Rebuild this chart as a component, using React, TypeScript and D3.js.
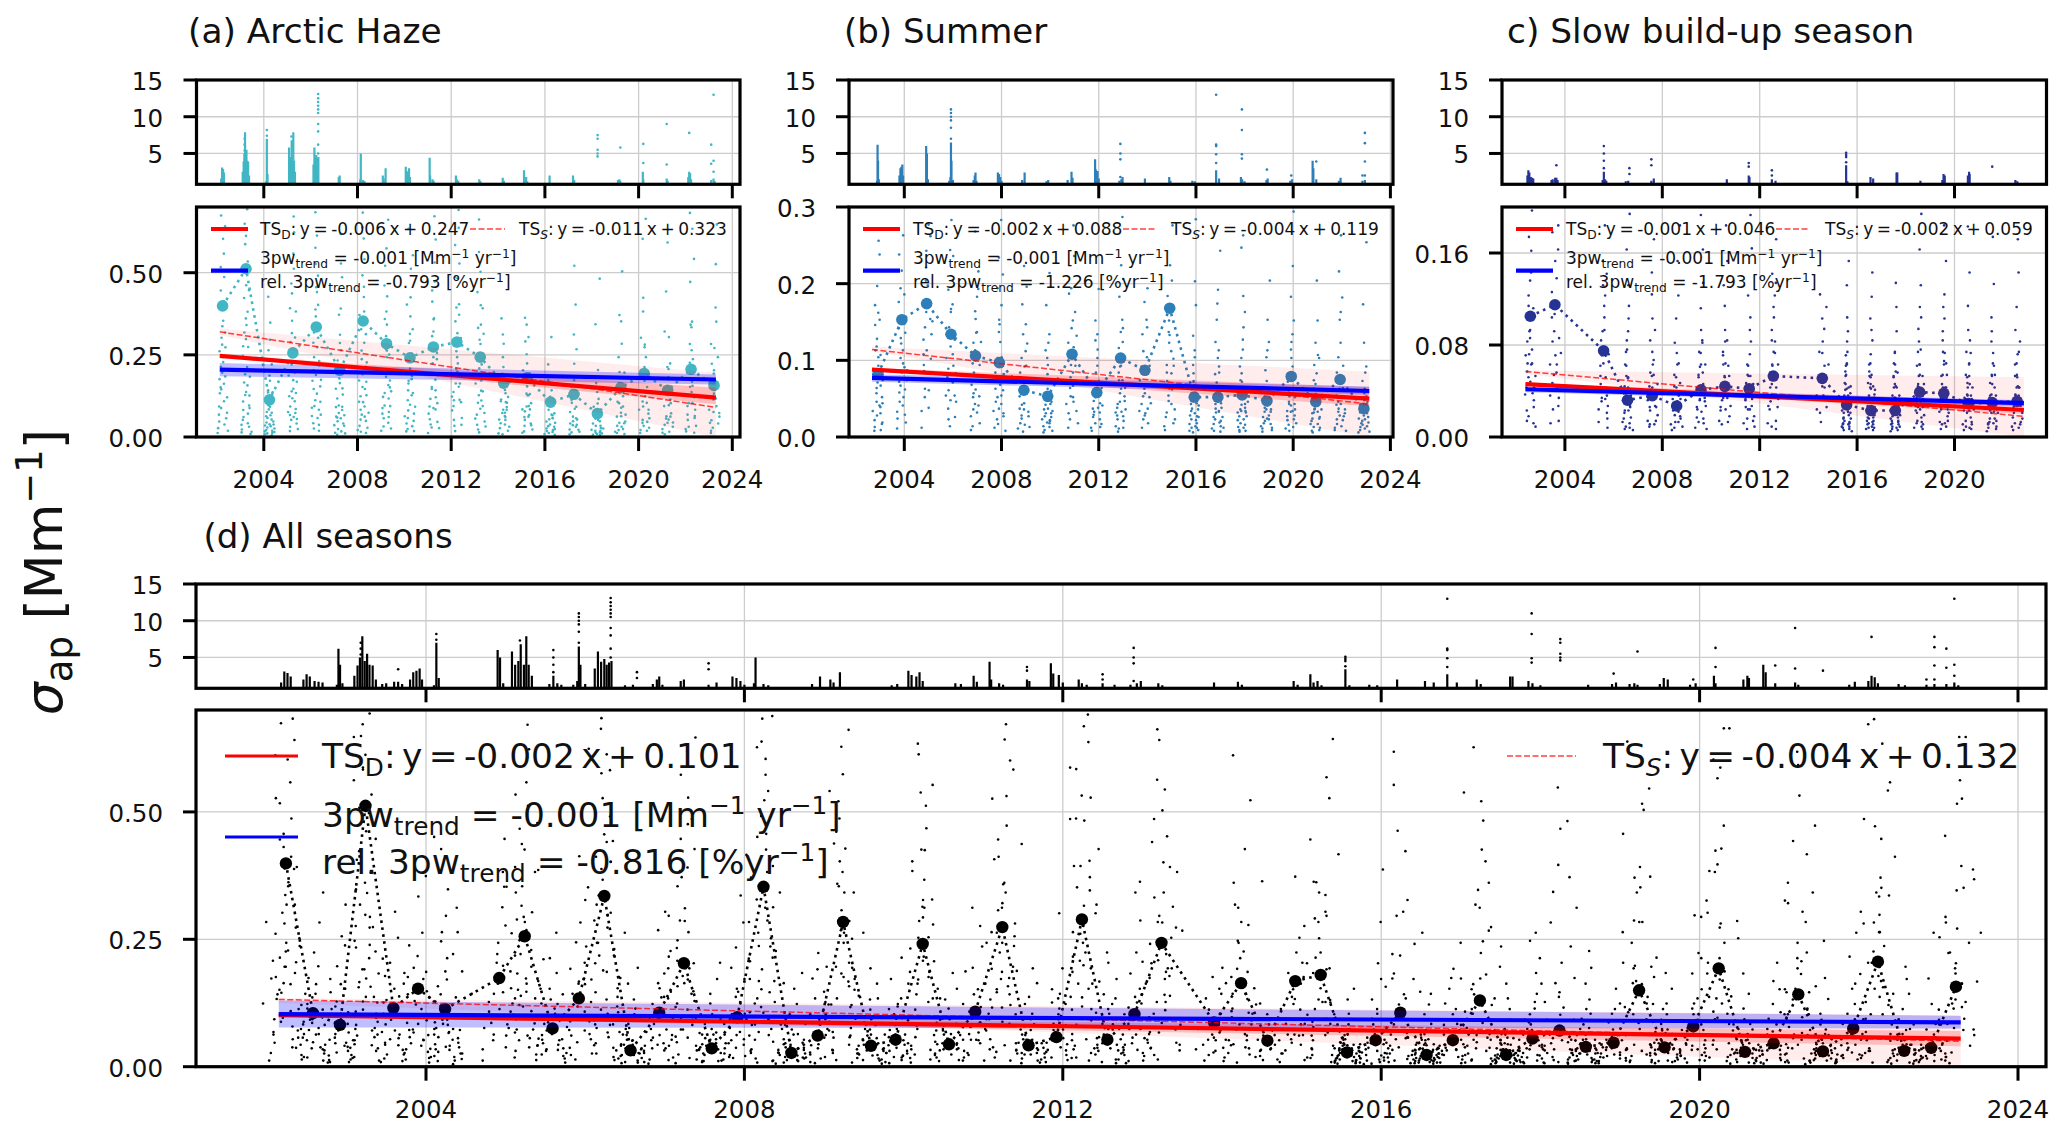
import React from "react";
import * as d3 from "d3";

const FONT = "'DejaVu Sans', sans-serif";

// ---------- seasonal mean values (date, value) ----------
const hazeMeanDates = [2002.24,2003.24,2004.24,2005.24,2006.24,2007.24,2008.24,2009.24,2010.24,2011.24,2012.24,2013.24,2014.24,2015.24,2016.24,2017.24,2018.24,2019.24,2020.24,2021.24,2022.24,2023.22];
const hazeMeans = [.399,.512,.113,.256,.335,.203,.353,.284,.241,.274,.289,.243,.164,.18,.106,.13,.071,.15,.193,.142,.206,.157];
const summerMeanDates = [2002.92,2003.9,2004.92,2005.92,2006.93,2007.91,2008.92,2009.9,2010.9,2011.92,2012.9,2013.9,2014.92,2015.93,2016.9,2017.9,2018.92,2019.92,2020.93,2021.93,2022.91];
const summerMeans = [.082,.153,.174,.134,.106,.097,.061,.053,.108,.058,.103,.087,.168,.052,.052,.055,.047,.079,.046,.075,.037];
const slowMeanDates = [2002.58,2003.59,2005.59,2006.57,2007.59,2008.59,2009.59,2010.57,2011.57,2012.56,2014.57,2015.57,2016.57,2017.57,2018.57,2019.56,2020.57,2021.55,2022.57];
const slowMeans = [.105,.115,.075,.032,.036,.027,.041,.044,.042,.053,.051,.028,.023,.023,.039,.038,.029,.03,.031];

// ---------- daily values per season in units of 0.001 Mm-1, in date order, one row per year ----------
const hazeDaily: number[][] = [
[47,12,93,151,68,27,214,133,302,176,88,261,389,145,446,228,517,337,603,281,674,412,196,558,354,641,243,487,318,162,392,205,109,273,74,184,38,121,57,19],
[23,61,14,108,37,166,82,247,128,52,318,191,423,276,137,508,361,587,213,649,462,693,298,534,381,612,157,447,239,341,96,274,183,71,126,42,9,88,31,16],
[8,29,17,44,11,63,35,97,21,142,58,187,76,264,39,118,348,92,427,171,53,296,84,221,33,136,66,19,102,47,12,74,26,5,38,15],
[31,76,18,124,52,187,93,248,67,316,139,392,221,173,467,289,558,118,623,354,671,437,196,512,268,382,147,303,85,229,61,168,109,41,134,24,73,55],
[42,89,26,146,64,203,112,287,171,388,94,456,243,527,318,613,189,684,402,576,273,491,132,367,218,441,83,302,154,58,231,107,37,174,68,19],
[13,36,7,62,24,91,48,147,73,208,117,286,59,372,164,447,233,528,96,618,311,486,178,264,82,391,129,203,57,148,34,92,17,66,41,11],
[21,53,34,107,68,172,16,263,124,371,191,83,492,237,604,328,683,426,152,541,287,638,382,214,457,106,313,146,227,62,168,93,28,127,49,74,12],
[32,71,19,134,88,196,57,268,122,359,183,461,243,574,96,382,661,307,521,158,428,251,342,117,263,172,76,204,139,43,94,26,151,61],
[24,63,41,112,17,163,81,232,142,314,58,403,208,286,512,171,367,634,254,425,98,553,293,186,328,127,232,71,176,49,134,92,33,18],
[12,54,29,93,71,152,38,224,116,307,192,88,412,263,531,146,358,672,243,446,601,321,174,473,237,361,121,256,84,188,46,142,103,27],
[34,81,52,123,18,186,94,261,137,352,208,487,112,316,584,243,394,691,163,483,637,276,528,372,199,404,301,153,224,106,163,58,113,37],
[23,56,37,104,68,163,14,241,127,332,86,441,209,283,563,141,342,662,401,178,503,296,392,221,314,111,253,172,73,193,139,32,94,47],
[11,42,27,73,53,114,8,176,83,243,109,312,64,192,361,143,284,106,213,61,164,91,133,38,122,74,104,19,83,52,31],
[13,52,34,84,61,132,17,203,93,291,127,363,224,78,304,173,342,131,252,94,193,62,154,103,127,41,84,23,67,36],
[9,33,18,54,26,83,47,122,12,173,68,221,97,304,38,183,57,114,66,142,31,94,21,72,15,43,24,58,7],
[14,41,23,62,8,104,36,152,76,223,113,312,48,403,142,521,181,124,267,92,173,57,134,31,86,22,53,16,37],
[7,22,13,41,19,63,9,92,34,137,56,204,78,343,102,482,71,164,48,116,27,73,18,52,11,34,6,26,14],
[16,34,21,62,43,103,12,164,74,243,107,352,143,504,198,162,371,124,284,89,196,63,137,42,93,31,68,24,47,9],
[21,43,12,83,52,137,34,204,93,302,171,424,108,243,603,281,664,213,382,152,273,104,187,71,124,46,83,19,57,28],
[13,37,24,56,8,94,43,146,63,213,132,321,97,443,182,592,224,153,304,114,207,72,146,53,103,31,62,16,44],
[24,52,31,94,17,153,68,226,103,334,204,472,137,283,634,351,682,168,542,264,342,121,237,83,156,58,103,34,64,13],
[12,43,28,83,51,124,19,193,76,283,114,394,162,223,526,271,647,203,351,132,243,94,163,62,117,41,73],
];
const summerDaily: number[][] = [
[13,34,22,57,8,82,46,113,71,146,28,172,93,197,64,238,118,256,41,162,128,67,104,39,153,17,86,9,52,31,74,44,107,19],
[24,46,33,72,11,103,58,142,84,176,129,217,67,238,96,194,153,334,186,122,263,91,41,136,62,113,29,74,148,52,87,19],
[34,63,12,94,52,127,76,163,108,204,143,313,86,243,382,172,277,447,221,353,154,198,113,262,83,134,61,102,38,151],
[23,54,37,78,14,103,61,134,89,163,118,192,48,173,244,143,204,283,352,413,236,167,127,93,71,46,108,26,83,54],
[14,27,36,52,9,74,43,96,68,113,84,136,57,154,123,183,102,164,216,268,304,193,137,62,94,32,53,41,124,73,18],
[12,34,23,46,17,63,52,84,37,103,76,124,93,153,68,137,194,172,234,283,336,212,147,104,61,43,82,27,54,31,8],
[11,24,18,37,7,53,42,63,28,84,71,103,36,134,112,173,92,147,223,196,62,44,93,33,57,16,27,122,13,74],
[9,14,23,31,6,42,27,53,36,72,19,58,94,63,113,82,134,103,172,214,123,43,74,21,37,26,52,13,34,18,46,8,31,22],
[23,43,31,64,12,94,53,123,78,152,108,187,67,142,236,194,276,312,163,117,84,132,52,93,34,74,46,18],
[12,26,18,37,8,52,33,68,47,84,29,103,63,126,73,152,114,193,134,72,44,93,32,56,17,38,13,64,23,41],
[7,14,23,32,11,43,28,57,38,74,46,84,103,63,116,137,92,153,183,224,287,342,206,142,93,124,53,74,33,47,21,36,12,64,27],
[23,34,12,53,43,74,28,92,63,112,82,134,57,153,176,194,143,84,104,52,67,31,93,18,44,37],
[14,32,26,54,9,73,47,94,63,123,84,152,112,137,184,163,224,276,373,204,133,102,62,83,23,43,93,36,18],
[8,12,23,17,34,6,43,28,52,37,64,47,83,57,104,73,132,172,94,203,284,113,72,53,31,44,22,36,14,27,9,18,63,41,12,26],
[11,23,8,32,17,43,26,54,37,63,46,82,58,103,71,124,92,153,113,192,243,174,84,53,34,44,21,33,14,26,7,19,63,38,12],
[9,13,22,18,32,7,36,27,53,42,63,34,74,58,92,83,114,103,143,184,247,263,163,127,72,43,52,32,23,34,12,27,8,16,46,38],
[7,14,21,11,33,18,42,26,47,36,53,24,63,38,73,62,104,87,124,153,204,113,64,41,33,52,23,12,28,36,9,17],
[11,22,16,34,8,43,27,46,33,58,72,41,64,83,76,103,53,92,124,114,152,183,223,294,134,84,52,34,43,23,62,13,36,18,28],
[8,13,21,17,32,6,37,24,43,31,52,36,63,47,74,56,83,69,94,107,123,152,204,103,53,41,24,33,12,26,17,44,36,9],
[12,23,9,33,17,42,28,54,37,63,46,84,72,104,123,153,182,216,263,304,163,93,64,43,22,31,53,14,36,27,8],
[6,13,18,9,24,16,32,21,37,28,43,33,52,41,63,48,73,57,92,123,173,254,84,46,23,31,11,26,14,53,7,36,19],
];
const slowDaily: number[][] = [
[14,37,23,52,43,71,18,64,92,83,104,57,93,72,123,63,114,48,143,86,174,103,136,197,162,112,224,283,342,76,43,32,64,26,53,12,38,9],
[12,24,36,47,63,54,83,104,71,126,92,153,113,178,138,204,253,304,163,107,63,184,42,86,34,56,14,73,27],
[13,34,24,46,31,62,42,74,53,92,71,114,84,132,104,153,123,184,213,263,142,93,64,36,52,27,43,16,33,72,8,21],
[7,13,21,16,9,32,23,36,41,33,53,44,62,51,74,63,92,76,114,84,132,163,194,103,52,36,43,27,34,12,23,41,8,31,17,6,26],
[9,14,23,11,32,26,37,44,33,53,41,63,56,74,84,67,103,124,93,143,172,204,54,43,26,33,14,27,46,11,36,19],
[6,11,8,23,13,27,19,33,24,38,44,31,54,43,63,52,82,64,103,123,153,184,73,36,47,13,26,16,22,33,9,18],
[8,13,24,17,33,26,43,32,54,41,63,52,73,61,84,74,93,82,112,134,163,193,56,34,43,22,31,12,27,16,63,46,7],
[11,23,14,34,26,46,32,53,44,63,52,74,64,83,71,93,84,114,132,153,184,62,43,36,24,53,13,34,27,46,18],
[7,12,26,16,32,24,43,33,54,36,63,47,72,53,83,62,104,123,164,193,93,46,24,33,14,27,53,9,36,18],
[12,24,9,36,27,46,31,53,43,63,56,74,62,84,73,93,104,123,113,142,172,204,134,83,54,36,43,26,14,33,63,7],
[13,24,21,36,44,33,53,62,74,83,94,103,124,113,73,52,43,63,36,26],
[6,9,12,17,8,23,14,11,32,21,34,16,27,41,36,28,46,33,53,42,57,47,63,54,74,62,83,71,92,104,132,153,64,36,43,24,33,13,22,7,19,31,11,26,38,9,16,44,12,29,5,21],
[7,11,14,8,23,17,12,32,21,36,27,16,43,34,47,31,53,42,57,46,63,54,72,64,84,103,122,143,93,52,44,26,33,13,23,9,17,34,6,26,37,11,19,31,8,14,24,41],
[5,9,12,16,7,21,14,11,33,24,34,18,43,36,46,31,52,44,53,63,57,73,64,92,74,113,134,56,34,43,23,32,13,26,8,17,36,6,22,31,11,19,27,9,14],
[8,12,23,14,27,21,33,26,36,31,43,34,46,53,44,62,54,74,63,83,76,94,113,132,163,194,104,63,42,53,31,24,36,13,27,9,33,17,46,11,26,38,7,19],
[7,13,22,11,27,24,34,26,38,43,33,54,46,63,53,74,66,84,73,103,92,124,153,184,113,64,43,54,27,34,12,24,36,9,21,43,14,31,18],
[6,11,9,23,14,26,21,34,27,37,33,43,36,54,47,63,52,74,64,93,84,114,143,183,73,46,53,33,23,36,13,26,8,32,17,43,11,24,7],
[5,8,13,11,23,16,12,27,21,34,26,37,31,46,36,54,47,64,53,83,62,104,73,133,174,92,54,33,43,22,36,12,27,7,16,24,9,32,14,21],
[6,12,17,9,24,21,33,26,37,32,43,36,53,44,63,54,72,64,93,74,113,143,172,83,52,43,24,36,13,27,8,33,21,11,43,16],
];
// further daily records that appear only in the all-seasons panel, one row per year, around each spring
const otherDaily: number[][] = [
[63,124,208,96,173,284,431,142,362,527,226,611,683,318,457,252,164,388,113,79,196,143,54,88,237,36],
[84,156,47,234,318,112,406,562,273,647,191,498,672,348,226,583,137,294,68,173,104,212,58,131,43,76],
[53,97,172,34,246,128,374,68,451,213,92,312,158,41,264,82,187,26,119,72,143,56],
[73,146,218,108,294,353,183,426,534,251,607,342,163,478,284,121,386,94,211,56,153,38,87,124],
[91,162,243,76,327,412,186,508,624,297,663,443,218,582,336,137,402,104,263,67,176,43,118,82],
[46,93,158,227,73,296,384,134,476,573,248,646,354,193,427,112,287,63,171,38,96,52,143],
[62,134,207,93,312,416,168,523,627,284,688,451,236,573,342,117,394,83,252,46,164,74],
[68,127,191,276,103,354,438,167,541,628,286,487,342,194,403,121,263,58,176,87,34,132],
[74,118,186,253,91,327,426,163,538,279,613,384,207,468,134,312,86,216,47,153,62],
[53,104,172,243,87,312,407,158,526,642,264,583,342,186,437,116,281,73,196,42,137],
[82,143,216,301,118,394,486,193,587,668,346,532,264,427,136,318,91,224,54,167],
[67,126,203,284,97,363,452,174,544,641,273,486,193,382,127,267,82,186,43],
[52,97,164,226,71,318,427,143,523,278,611,186,364,92,247,61,154,34],
[61,113,184,253,88,337,446,176,568,284,643,362,527,214,417,126,296,73,191,48],
[46,92,157,218,68,296,387,134,463,553,241,618,327,172,423,103,263,56,147,33],
[53,108,173,246,82,318,426,162,538,274,627,361,483,196,347,121,236,64,163],
[41,87,146,213,64,283,372,127,467,236,548,312,174,396,92,227,53],
[58,117,193,264,86,342,457,168,546,287,638,373,516,214,392,123,284,71,176,44],
[72,134,213,297,96,384,473,183,587,326,664,428,566,252,397,138,286,84,193,52],
[49,103,168,243,78,326,417,152,532,284,618,361,473,193,342,112,247,66,158],
[63,127,204,281,93,371,486,178,593,336,672,447,558,264,412,143,298,87,196,51],
[54,112,183,263,84,346,453,163,562,294,647,387,516,224,368,127,263,72,167],
];
const samplingJitter = [.4,-.7,.1,.9,-.3,-.9,.6,-.1,.8,-.5,.3,-.8,.7,0,-.4,.95,-.65,.2,.5,-.2,-.95,.75,-.55,.35,-.15,.85,-.75,.05,.55,-.35,.65];

// ---------- solid stems in the upper strips (overlapping points): date and top value ----------
const hazeStemDates = [2002.18,2002.22,2002.26,2002.3,2003.1,2003.14,2003.17,2003.2,2003.23,2003.26,2003.29,2003.33,2003.37,2004.1,2004.13,2004.16,2005.08,2005.12,2005.16,2005.19,2005.23,2005.26,2005.29,2005.33,2006.12,2006.16,2006.2,2006.24,2006.27,2006.3,2006.33,2007.2,2007.24,2008.12,2008.14,2008.24,2008.3,2009.08,2009.12,2009.2,2010.06,2010.1,2010.16,2010.2,2010.24,2011.08,2011.1,2011.2,2011.25,2012.2,2012.24,2012.3,2013.2,2013.25,2014.2,2014.25,2015.11,2015.15,2015.2,2015.25,2016.2,2017.2,2017.25,2019.12,2019.18,2019.22,2020.18,2020.2,2021.2,2021.24,2022.12,2022.16,2022.2,2022.24,2023.1,2023.2,2023.25];
const hazeStemTops = [1.6,3.1,2.9,2.4,2.5,3.9,5,7.9,4.5,5.5,4,3.9,2,1.2,7,2.2,5.8,4,4.5,6.8,4,7.9,4,2.5,3.5,5.8,4.4,4.8,4,4.3,4.5,1.8,2,1.5,5,1.4,1.2,2,1.6,3,3.2,2.6,2.4,3,1.8,4.4,2,1.5,1.3,2,1.5,1.3,1.5,1.2,1.7,1.3,2.7,1.6,1.8,1.2,2,2,1.4,1.4,1.5,1.3,2.5,1.5,1.6,1.3,1.8,2.5,2.3,1.5,1.4,1.6,1.2];
const summerStemDates = [2002.88,2002.9,2002.92,2002.95,2003.8,2003.84,2003.88,2003.92,2003.95,2004.9,2004.93,2004.97,2005.85,2005.9,2005.92,2005.94,2006,2006.85,2006.9,2006.93,2006.97,2007.85,2007.9,2007.95,2008,2008.85,2008.95,2009.85,2009.92,2010.72,2010.88,2010.92,2011.85,2011.88,2011.95,2012,2012.85,2012.93,2012.98,2013.9,2014.9,2014.95,2015.85,2015.95,2016.83,2016.95,2017.85,2017.9,2018,2018.9,2018.95,2019.88,2019.95,2020.8,2020.83,2020.95,2021.88,2021.95,2022.85,2022.95];
const summerStemTops = [1.3,6.2,4,1.5,2,3,3.2,3.5,2,6,5,1.5,1.3,1.8,6.5,4,1.4,1.4,2,2.4,1.3,2.4,2.2,1.8,1.3,1.4,2.4,1.2,1.4,1.4,2.5,1.7,4.2,2.8,2.6,1.6,1.3,1.5,1.8,1.6,1.8,1.3,1.3,1.2,2.7,1.6,1.8,1.5,1.2,1.4,1.6,1.3,1.5,4,3,1.5,1.3,1.7,1.3,1.4];
const slowStemDates = [2002.46,2002.5,2002.54,2002.6,2002.65,2002.7,2003.45,2003.5,2003.6,2003.65,2003.7,2005.55,2005.6,2005.65,2005.7,2006.5,2006.6,2007.55,2007.65,2010.65,2011.55,2011.58,2012.5,2012.65,2015.55,2015.6,2016.55,2016.66,2017.62,2017.65,2018.6,2019.5,2019.55,2019.6,2020.55,2020.6,2020.62,2022.5,2022.58];
const slowStemTops = [2,2.7,2.4,1.8,1.7,1.6,1.4,1.5,1.7,1.7,1.4,1.4,2.5,1.5,1.3,1.2,1.3,1.3,1.6,1.5,2,1.8,1.5,1.3,3.4,1.2,1.8,1.6,2.4,2.4,1.3,1.4,2.2,2,2,2.5,2.2,1.4,1.2];

// ---------- isolated high values in the upper strips: date and values ----------
const hazeSpikeDates = [2003.18,2004.13,2005.18,2005.26,2006.16,2006.32,2008.14,2018.25,2019.22,2020.2,2021.2,2022.16,2023.1,2023.2];
const hazeSpikes: number[][] = [
[5.4,6.2,7],[7.4,8.2],[7.3],[],[],[5,6.2,8,9,10.5,11,11.5,12,12.5,13.1],[],[4.6,5,5.5,7,7.5],[5.8],[3.7,6.3],[3.5,9],[7.8],[3.6,6.2],[2.5,4,13],
];
const summerSpikeDates = [2003.9,2005.92,2012.89,2016.83,2017.89,2018.92,2019.92,2020.95,2022.85,2022.95];
const summerSpikes: number[][] = [
[],[7,8.5,9.5,10,10.5,11],[1.8,4.2,5,6.3],[3.7,4.9,6,6.2,13],[4.3,4.9,8.2,11],[2.8],[2],[3.9],[2],[2,3.9,6.4,7.8],
];
const slowSpikeDates = [2003.65,2005.6,2006.65,2007.55,2011.55,2012.5,2015.55,2021.55];
const slowSpikes: number[][] = [[3.4],[3,4,5,6],[2.2,3],[3.4,4.2],[3.2,3.7],[2,2.7],[3.8,4.5,4.8,5.1],[3.2]];

// ---------- trend lines: value at start and end of the record, bands as [low, high] ----------
const hazeSpan = [2002.12,2023.3];
const hazeTsD = [.247,.12];
const hazeTsS = [.32,.09];
const hazeBlue = [.205,.175];
const hazePale = [[.31,.33],[0,.195]];
const hazeRose = [[.245,.25],[.1,.15]];
const hazeLilac = [[.185,.225],[.16,.19]];
const summerSpan = [2002.67,2023.13];
const summerTsD = [.088,.05];
const summerTsS = [.114,.043];
const summerBlue = [.077,.06];
const summerPale = [[.112,.118],[0,.085]];
const summerRose = [[.087,.09],[.04,.065]];
const summerLilac = [[.072,.082],[.055,.066]];
const slowSpan = [2002.38,2022.85];
const slowTsD = [.046,.0235];
const slowTsS = [.057,.018];
const slowBlue = [.0415,.0295];
const slowPale = [[.055,.058],[0,.052]];
const slowRose = [[.045,.047],[.02,.03]];
const slowLilac = [[.039,.044],[.027,.032]];
const allSpan = [2002.15,2023.28];
const allTsD = [.101,.055];
const allTsS = [.132,.05];
const allBlue = [.103,.087];
const allPale = [[.125,.135],[0,.1]];
const allRose = [[.099,.103],[.04,.07]];
const allLilac = [[.077,.13],[.075,.1]];

const haze = "#41b6c4";
const summer = "#2c7fb8";
const slow = "#253494";

const seasonSpread = 0.34;
const dailyPoints = (rows: number[][], centers: number[], spread = seasonSpread) =>
  rows.flatMap((row, r) =>
    row.map((v, i) => {
      const step = spread / (row.length - 1);
      const date = centers[r] - spread / 2 + step * i + step * 8 * samplingJitter[(i + r * 7) % samplingJitter.length];
      return [date, v / 1000] as [number, number];
    })
  );
const spikePoints = (dates: number[], cols: number[][]) =>
  cols.flatMap((col, c) => col.map((v) => [dates[c], v] as [number, number]));
const pairs = (a: number[], b: number[]) => a.map((d, i) => [d, b[i]] as [number, number]);

const hazePts = [...dailyPoints(hazeDaily, hazeMeanDates), ...spikePoints(hazeSpikeDates, hazeSpikes)];
const summerPts = [...dailyPoints(summerDaily, summerMeanDates), ...spikePoints(summerSpikeDates, summerSpikes)];
const slowPts = [...dailyPoints(slowDaily, slowMeanDates), ...spikePoints(slowSpikeDates, slowSpikes)];
const hazeStems = pairs(hazeStemDates, hazeStemTops);
const summerStems = pairs(summerStemDates, summerStemTops);
const slowStems = pairs(slowStemDates, slowStemTops);
const allPts = [...hazePts, ...summerPts, ...slowPts, ...dailyPoints(otherDaily, hazeMeanDates, 0.42)];
const allStems = [...hazeStems, ...summerStems, ...slowStems];
const allMeans = [...pairs(hazeMeanDates, hazeMeans), ...pairs(summerMeanDates, summerMeans), ...pairs(slowMeanDates, slowMeans)].sort((p, q) => p[0] - q[0]);

type Seg = { t: string; k?: "sub" | "sup"; it?: boolean };
function Rich({ x, y, size, segs, ws }: { x: number; y: number; size: number; segs: Seg[]; ws?: number }) {
  let shift = 0;
  return (
    <text x={x} y={y} fontSize={size} fontFamily={FONT} fill="#111" xmlSpace="preserve" wordSpacing={ws || 0}>
      {segs.map((s, i) => {
        const target = s.k === "sub" ? size * 0.22 : s.k === "sup" ? -size * 0.38 : 0;
        const dy = target - shift;
        shift = target;
        return <tspan key={i} dy={dy} fontSize={s.k ? size * 0.72 : size} fontStyle={s.it ? "italic" : "normal"}>{s.t}</tspan>;
      })}
    </text>
  );
}

const trendLine = (): Seg[] => [{ t: "3pw" }, { t: "trend", k: "sub" }, { t: " = -0.001 [Mm" }, { t: "−1", k: "sup" }, { t: " yr" }, { t: "−1", k: "sup" }, { t: "]" }];
const relLine = (v: string): Seg[] => [{ t: "rel. 3pw" }, { t: "trend", k: "sub" }, { t: ` = ${v} [%yr` }, { t: "−1", k: "sup" }, { t: "]" }];
const tsLine = (k: string, e: string): Seg[] => [{ t: "TS" }, { t: k, k: "sub", it: k === "S" }, { t: `: y = ${e}` }];

type PanelProps = {
  id: string; color: string; left: number; right: number; x2004: number; x2024: number;
  topY: [number, number]; mainY: [number, number]; yMax: number; yTicks: number[]; dec: number; labelX: number;
  xTicks: number[]; pts: [number, number][]; stems: [number, number][]; means: [number, number][];
  span: number[]; tsD: number[]; tsS: number[]; blue: number[]; pale: number[][]; rose: number[][]; lilac: number[][];
  dotR: number; meanR: number; spine: number; labelY: number; stemW: number;
  legend: { size: number; ws: number; h: [number, number]; d: [number, number]; dt: number; tx: number; y1: number; y2: number; y3: number; y4: number; a: string; b: string; rel: string };
};

function Panel(p: PanelProps) {
  const x = d3.scaleLinear().domain([2004, 2024]).range([p.x2004, p.x2024]);
  const yT = d3.scaleLinear().domain([0.8, 15]).range([p.topY[1], p.topY[0]]);
  const yM = d3.scaleLinear().domain([0, p.yMax]).range([p.mainY[1], p.mainY[0]]);
  const meanPath = d3.line<[number, number]>().x((d) => x(d[0])).y((d) => yM(d[1]))(p.means) || "";
  const seg = (v: number[]) => d3.line<number>().x((_, i) => x(p.span[i])).y((d) => yM(d))(v) || "";
  const band = (b: number[][]) =>
    d3.area<number[]>().x((_, i) => x(p.span[i])).y0((d) => yM(d[0])).y1((d) => yM(d[1]))(b) || "";
  const tickW = 3;
  const Frame = ({ y0, y1 }: { y0: number; y1: number }) => (
    <rect x={p.left} y={y0} width={p.right - p.left} height={y1 - y0} fill="none" stroke="#000" strokeWidth={p.spine} />
  );
  const L = p.legend;
  return (
    <g>
      <defs>
        <clipPath id={p.id + "t"}><rect x={p.left} y={p.topY[0]} width={p.right - p.left} height={p.topY[1] - p.topY[0]} /></clipPath>
        <clipPath id={p.id + "m"}><rect x={p.left} y={p.mainY[0]} width={p.right - p.left} height={p.mainY[1] - p.mainY[0]} /></clipPath>
      </defs>
      {/* upper strip */}
      {p.xTicks.map((t) => <line key={t} x1={x(t)} x2={x(t)} y1={p.topY[0]} y2={p.topY[1]} stroke="#ccc" strokeWidth={1.3} />)}
      {[5, 10].map((t) => <line key={t} x1={p.left} x2={p.right} y1={yT(t)} y2={yT(t)} stroke="#ccc" strokeWidth={1.3} />)}
      <g clipPath={`url(#${p.id}t)`}>
        {p.stems.map((d, i) => <line key={i} x1={x(d[0])} x2={x(d[0])} y1={yT(0.8)} y2={yT(d[1])} stroke={p.color} strokeWidth={p.stemW} />)}
        {p.pts.filter((d) => d[1] > 0.8).map((d, i) => <circle key={i} cx={x(d[0])} cy={yT(d[1])} r={p.dotR} fill={p.color} />)}
      </g>
      <Frame y0={p.topY[0]} y1={p.topY[1]} />
      {[5, 10, 15].map((t) => (
        <g key={t}>
          <line x1={p.left - 13} x2={p.left} y1={yT(t)} y2={yT(t)} stroke="#000" strokeWidth={tickW} />
          <text x={p.labelX} y={yT(t) + 10} textAnchor="end" fontSize={24.5} fontFamily={FONT} fill="#111">{t}</text>
        </g>
      ))}
      {p.xTicks.map((t) => <line key={t} x1={x(t)} x2={x(t)} y1={p.topY[1]} y2={p.topY[1] + 14} stroke="#000" strokeWidth={tickW} />)}
      {/* main panel */}
      {p.xTicks.map((t) => <line key={t} x1={x(t)} x2={x(t)} y1={p.mainY[0]} y2={p.mainY[1]} stroke="#ccc" strokeWidth={1.3} />)}
      {p.yTicks.filter((t) => t > 0 && t < p.yMax).map((t) => <line key={t} x1={p.left} x2={p.right} y1={yM(t)} y2={yM(t)} stroke="#ccc" strokeWidth={1.3} />)}
      <g clipPath={`url(#${p.id}m)`}>
        {p.pts.filter((d) => d[1] <= p.yMax).map((d, i) => <circle key={i} cx={x(d[0])} cy={yM(d[1])} r={p.dotR} fill={p.color} />)}
        <path d={meanPath} fill="none" stroke={p.color} strokeWidth={2.6} strokeDasharray="2.6 4.4" />
        {p.means.map((d, i) => <circle key={i} cx={x(d[0])} cy={yM(d[1])} r={p.meanR} fill={p.color} />)}
        <path d={band(p.pale)} fill="#ff0000" fillOpacity={0.075} />
        <path d={band(p.rose)} fill="#ff0000" fillOpacity={0.2} />
        <path d={band(p.lilac)} fill="#0000ff" fillOpacity={0.25} />
        <path d={seg(p.tsS)} fill="none" stroke="#ff0000" strokeOpacity={0.75} strokeWidth={1.5} strokeDasharray="6 2.5" />
        <path d={seg(p.tsD)} fill="none" stroke="#ff0000" strokeWidth={4.2} />
        <path d={seg(p.blue)} fill="none" stroke="#0000ff" strokeWidth={4.2} />
      </g>
      <Frame y0={p.mainY[0]} y1={p.mainY[1]} />
      {p.yTicks.map((t) => (
        <g key={t}>
          <line x1={p.left - 13} x2={p.left} y1={yM(t)} y2={yM(t)} stroke="#000" strokeWidth={tickW} />
          <text x={p.labelX} y={yM(t) + 10} textAnchor="end" fontSize={24.5} fontFamily={FONT} fill="#111">{t.toFixed(p.dec)}</text>
        </g>
      ))}
      {p.xTicks.map((t) => (
        <g key={t}>
          <line x1={x(t)} x2={x(t)} y1={p.mainY[1]} y2={p.mainY[1] + 14} stroke="#000" strokeWidth={tickW} />
          <text x={x(t)} y={p.labelY} textAnchor="middle" fontSize={24.5} fontFamily={FONT} fill="#111">{t}</text>
        </g>
      ))}
      {/* legend */}
      <line x1={L.h[0]} x2={L.h[1]} y1={L.y1} y2={L.y1} stroke="#ff0000" strokeWidth={p.id === "d" ? 3 : 4.2} />
      <Rich x={L.tx} y={L.y1 + L.size * 0.36} size={L.size} ws={L.ws} segs={tsLine("D", L.a)} />
      <line x1={L.d[0]} x2={L.d[1]} y1={L.y1} y2={L.y1} stroke="#ff0000" strokeOpacity={0.75} strokeWidth={1.5} strokeDasharray="6 2.5" />
      <Rich x={L.dt} y={L.y1 + L.size * 0.36} size={L.size} ws={L.ws} segs={tsLine("S", L.b)} />
      <line x1={L.h[0]} x2={L.h[1]} y1={L.y2} y2={L.y2} stroke="#0000ff" strokeWidth={p.id === "d" ? 3 : 4.2} />
      <Rich x={L.tx} y={L.y3 + L.size * 0.36} size={L.size} segs={trendLine()} />
      <Rich x={L.tx} y={L.y4 + L.size * 0.36} size={L.size} segs={relLine(L.rel)} />
    </g>
  );
}

export default function App() {
  const yr = [2004, 2008, 2012, 2016, 2020, 2024];
  const topY: [number, number] = [80, 184.3];
  const mainY: [number, number] = [207, 437];
  return (
    <svg width={2067} height={1135} viewBox="0 0 2067 1135" style={{ position: "absolute", left: 0, top: 0, background: "#fff" }}>
      <text x={188} y={43} fontSize={34.4} fontFamily={FONT} fill="#111">(a) Arctic Haze</text>
      <text x={844} y={43} fontSize={34} fontFamily={FONT} fill="#111">(b) Summer</text>
      <text x={1507} y={43} fontSize={34.4} fontFamily={FONT} fill="#111">c) Slow build-up season</text>
      <text x={203.5} y={548} fontSize={34} fontFamily={FONT} fill="#111">(d) All seasons</text>
      <text transform="translate(62,572) rotate(-90)" textAnchor="middle" fontSize={52} fontFamily={FONT} fill="#111" xmlSpace="preserve">
        <tspan fontStyle="italic">σ</tspan>
        <tspan fontSize={37} dy={10}>ap</tspan>
        <tspan dy={-10}> [Mm</tspan>
        <tspan fontSize={37} dy={-20}>−1</tspan>
        <tspan dy={20}>]</tspan>
      </text>
      <Panel id="a" color={haze} left={196.5} right={740} x2004={263.8} x2024={732.3} topY={topY} mainY={mainY} yMax={0.7} yTicks={[0, 0.25, 0.5]} dec={2} labelX={163} xTicks={yr}
        pts={hazePts} stems={hazeStems} means={pairs(hazeMeanDates, hazeMeans)} span={hazeSpan} tsD={hazeTsD} tsS={hazeTsS} blue={hazeBlue} pale={hazePale} rose={hazeRose} lilac={hazeLilac}
        dotR={1.3} meanR={5.8} spine={3.2} labelY={488} stemW={2.2}
        legend={{ size: 17, ws: -1.9, h: [211, 248], d: [470, 505], tx: 260, dt: 519, y1: 229, y2: 270.7, y3: 258, y4: 282, a: "-0.006 x + 0.247", b: "-0.011 x + 0.323", rel: "-0.793" }} />
      <Panel id="b" color={summer} left={849} right={1393} x2004={904.3} x2024={1390.4} topY={topY} mainY={mainY} yMax={0.3} yTicks={[0, 0.1, 0.2, 0.3]} dec={1} labelX={816} xTicks={yr}
        pts={summerPts} stems={summerStems} means={pairs(summerMeanDates, summerMeans)} span={summerSpan} tsD={summerTsD} tsS={summerTsS} blue={summerBlue} pale={summerPale} rose={summerRose} lilac={summerLilac}
        dotR={1.3} meanR={5.8} spine={3.2} labelY={488} stemW={2.2}
        legend={{ size: 17, ws: -1.9, h: [863, 900], d: [1123, 1156], tx: 913, dt: 1171, y1: 229, y2: 270.7, y3: 258, y4: 282, a: "-0.002 x + 0.088", b: "-0.004 x + 0.119", rel: "-1.226" }} />
      <Panel id="c" color={slow} left={1502} right={2046.5} x2004={1564.9} x2024={2051.9} topY={topY} mainY={mainY} yMax={0.2} yTicks={[0, 0.08, 0.16]} dec={2} labelX={1469} xTicks={yr.slice(0, 5)}
        pts={slowPts} stems={slowStems} means={pairs(slowMeanDates, slowMeans)} span={slowSpan} tsD={slowTsD} tsS={slowTsS} blue={slowBlue} pale={slowPale} rose={slowRose} lilac={slowLilac}
        dotR={1.3} meanR={5.8} spine={3.2} labelY={488} stemW={2.2}
        legend={{ size: 17, ws: -1.9, h: [1516, 1553], d: [1776, 1810], tx: 1566, dt: 1825, y1: 229, y2: 270.7, y3: 258, y4: 282, a: "-0.001 x + 0.046", b: "-0.002 x + 0.059", rel: "-1.793" }} />
      <Panel id="d" color="#000" left={196} right={2046} x2004={426} x2024={2018} topY={[584, 688.3]} mainY={[710, 1066.7]} yMax={0.7} yTicks={[0, 0.25, 0.5]} dec={2} labelX={163} xTicks={yr}
        pts={allPts} stems={allStems} means={allMeans} span={allSpan} tsD={allTsD} tsS={allTsS} blue={allBlue} pale={allPale} rose={allRose} lilac={allLilac}
        dotR={1.3} meanR={6.2} spine={3.2} labelY={1118} stemW={2.2}
        legend={{ size: 34.4, ws: -4.5, h: [225, 298], d: [1507, 1576], tx: 322, dt: 1603, y1: 756, y2: 837, y3: 815, y4: 862, a: "-0.002 x + 0.101", b: "-0.004 x + 0.132", rel: "-0.816" }} />
    </svg>
  );
}
